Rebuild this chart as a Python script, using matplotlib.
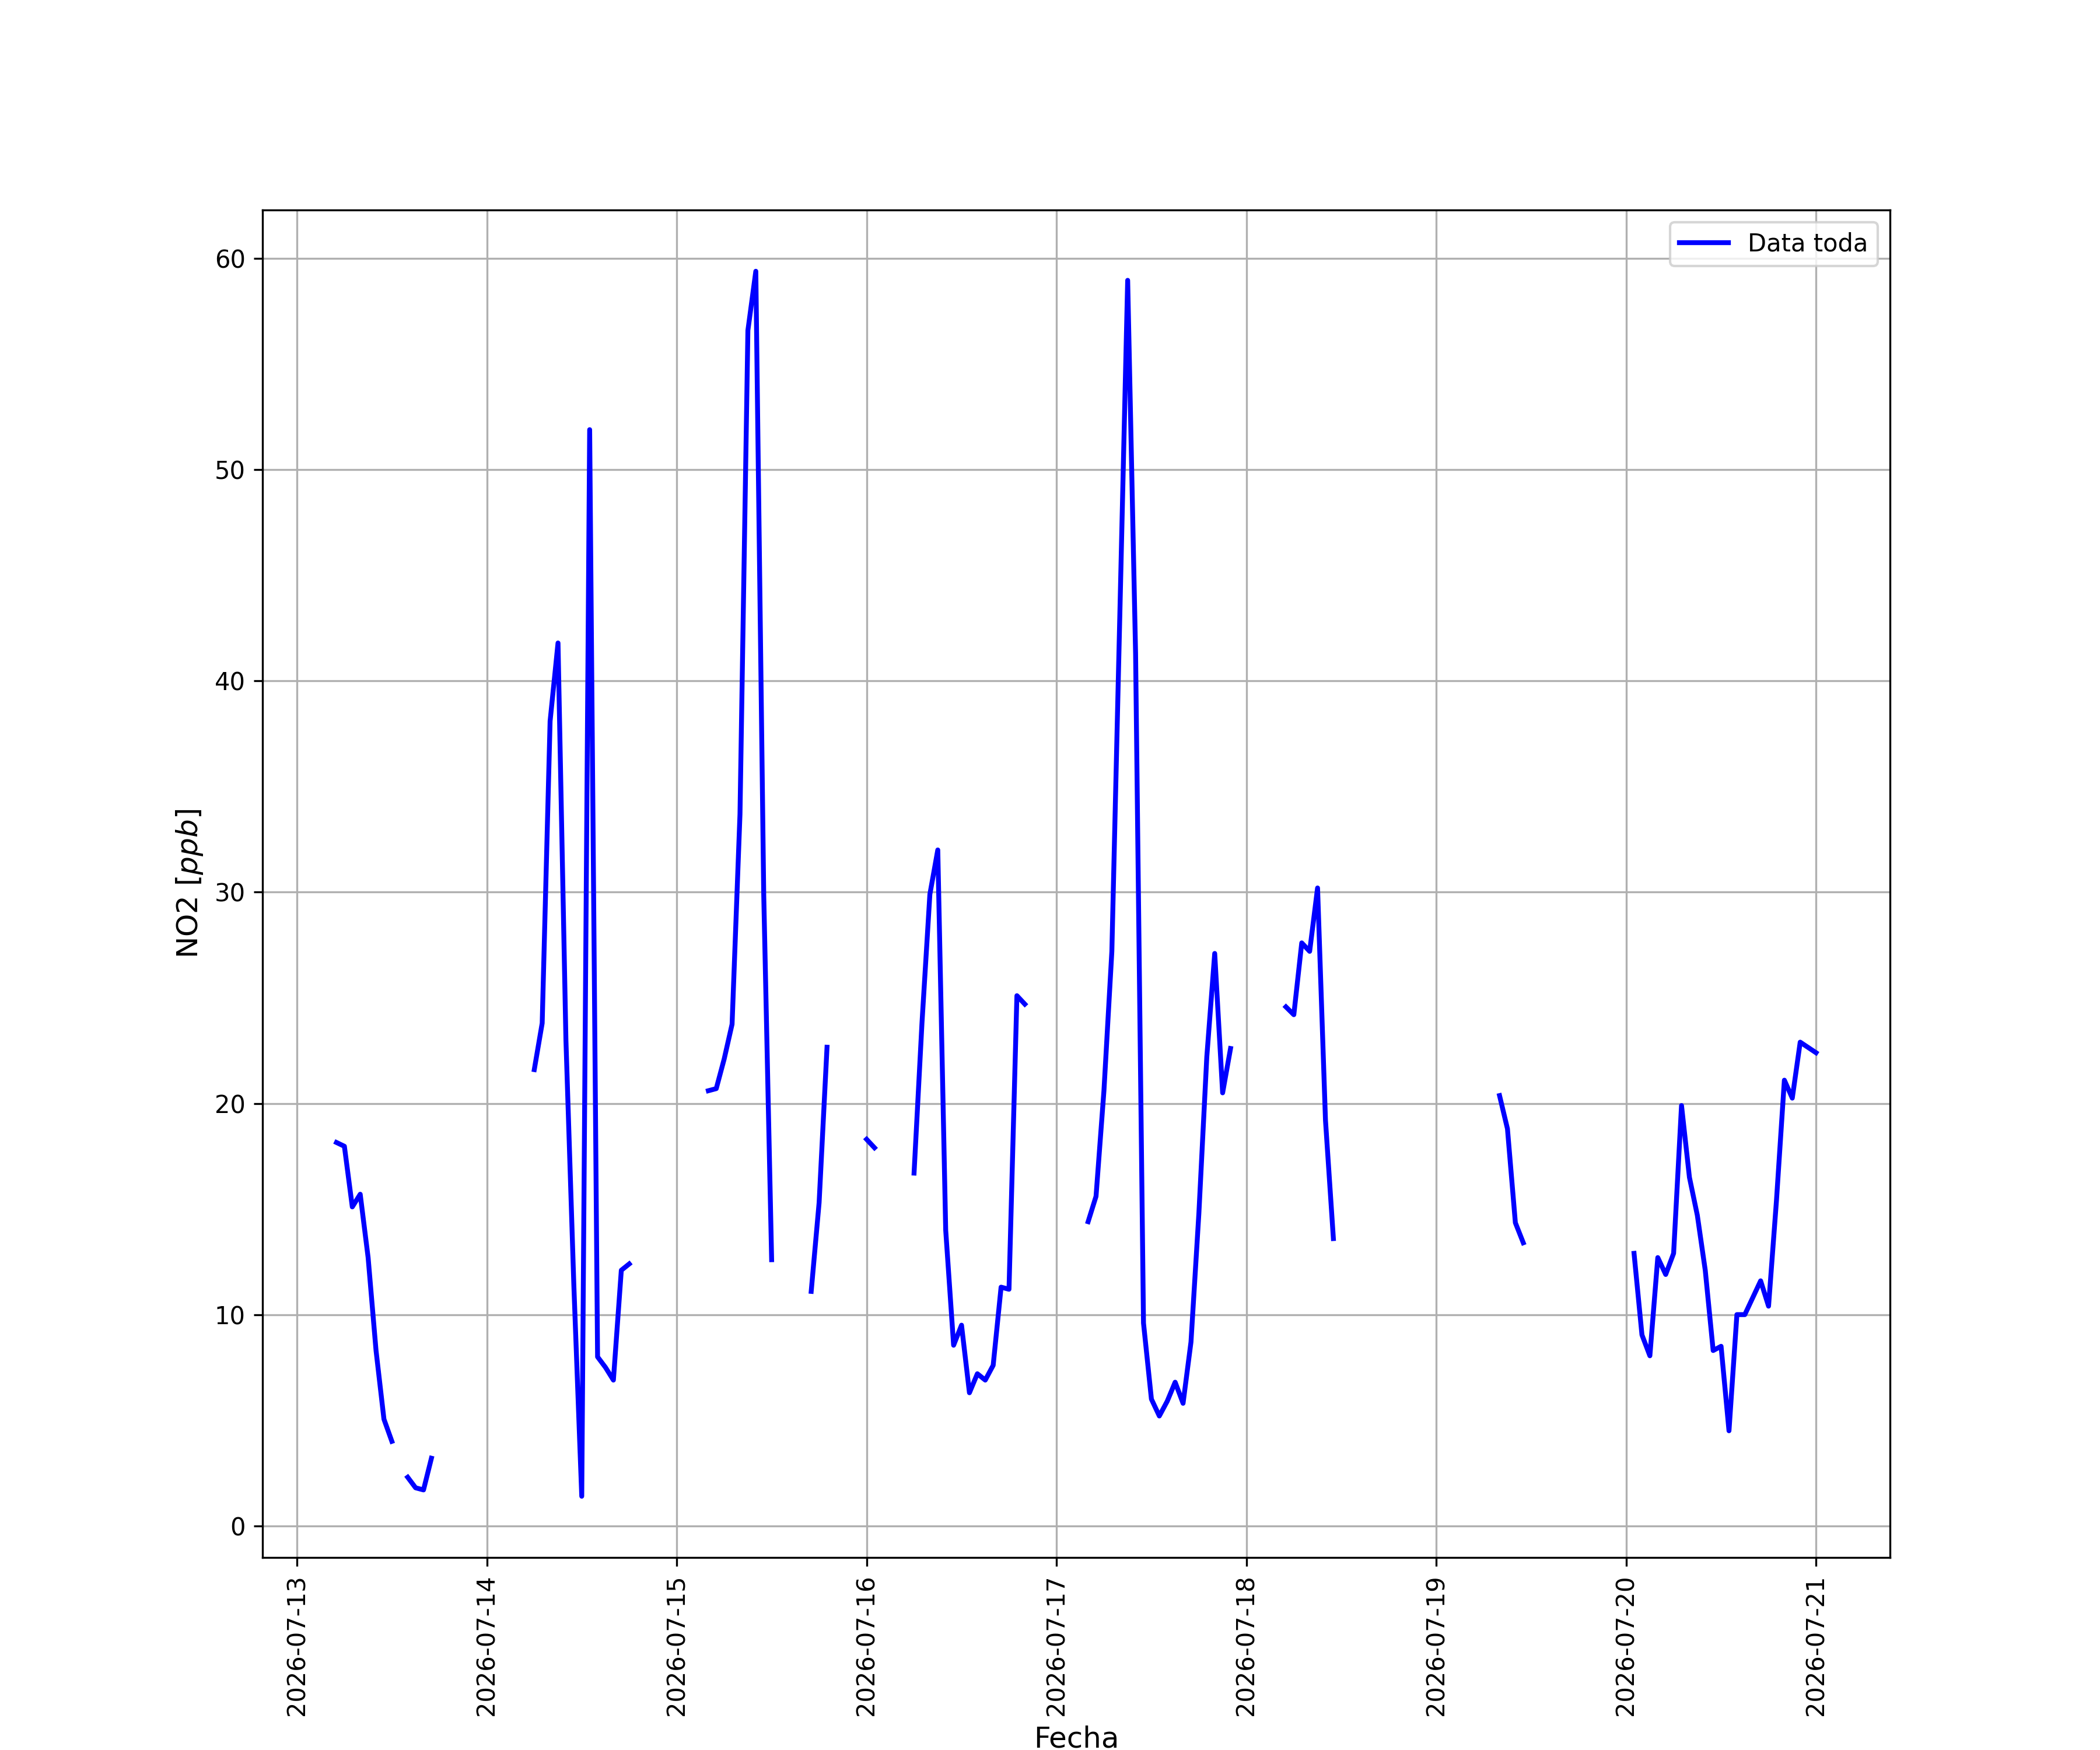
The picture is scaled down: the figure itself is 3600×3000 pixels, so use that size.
import numpy as np
import pandas as pd
import matplotlib
matplotlib.use("Agg")
import matplotlib.pyplot as plt
import matplotlib.dates as mdates

nan = np.nan

# Hourly NO2 values [ppb], starting 2026-07-13 05:00 (NaN = missing)
day13 = [18.15, 17.97, 15.1, 15.7, 12.7, 8.3, 5.05, 4.0, nan, 2.3, 1.8, 1.7, 3.2,
         nan, nan, nan, nan, nan, nan]                       # 05:00 - 23:00
day14 = [nan, nan, nan, nan, nan, nan, 21.6, 23.8, 38.1, 41.8, 23.0, 11.4, 1.4,
         51.9, 8.0, 7.5, 6.9, 12.1, 12.4, nan, nan, nan, nan, nan]
day15 = [nan, nan, nan, nan, 20.6, 20.7, 22.1, 23.75, 33.7, 56.6, 59.4, 29.9, 12.6,
         nan, nan, nan, nan, 11.1, 15.3, 22.66, nan, nan, nan, nan]
day16 = [18.3, 17.9, nan, nan, nan, nan, 16.7, 23.8, 29.9, 32.0, 14.0, 8.55, 9.5,
         6.3, 7.2, 6.9, 7.6, 11.3, 11.2, 25.1, 24.7, nan, nan, nan]
day17 = [nan, nan, nan, nan, 14.4, 15.6, 20.6, 27.2, 43.0, 58.97, 41.3, 9.6, 6.0,
         5.2, 5.9, 6.8, 5.8, 8.7, 14.8, 22.2, 27.1, 20.5, 22.6, nan]
day18 = [nan, nan, nan, nan, nan, 24.57, 24.2, 27.6, 27.2, 30.2, 19.2, 13.6, nan,
         nan, nan, nan, nan, nan, nan, nan, nan, nan, nan, nan]
day19 = [nan, nan, nan, nan, nan, nan, nan, nan, 20.37, 18.8, 14.35, 13.4, nan,
         nan, nan, nan, nan, nan, nan, nan, nan, nan, nan, nan]
day20 = [nan, 12.9, 9.04, 8.05, 12.7, 11.9, 12.9, 19.9, 16.5, 14.7, 12.1, 8.3, 8.5,
         4.5, 10.0, 10.0, 10.8, 11.6, 10.4, 15.4, 21.1, 20.25, 22.9, 22.65]
day21 = [22.4]                                               # 00:00

values = day13 + day14 + day15 + day16 + day17 + day18 + day19 + day20 + day21
fechas = pd.date_range("2026-07-13 05:00", periods=len(values), freq="h")

fig, ax = plt.subplots(figsize=(12, 10), dpi=300)
ax.plot(fechas, values, color="blue", linewidth=2, label="Data toda")

ax.xaxis.set_major_locator(mdates.DayLocator())
ax.xaxis.set_major_formatter(mdates.DateFormatter("%Y-%m-%d"))
plt.setp(ax.get_xticklabels(), rotation=90)

ax.set_xlabel("Fecha", fontsize=12)
ax.set_ylabel("NO2 [$ppb$]", fontsize=12)
ax.grid(True)
ax.legend(loc="upper right")

fig.savefig("out.png", dpi=300)
